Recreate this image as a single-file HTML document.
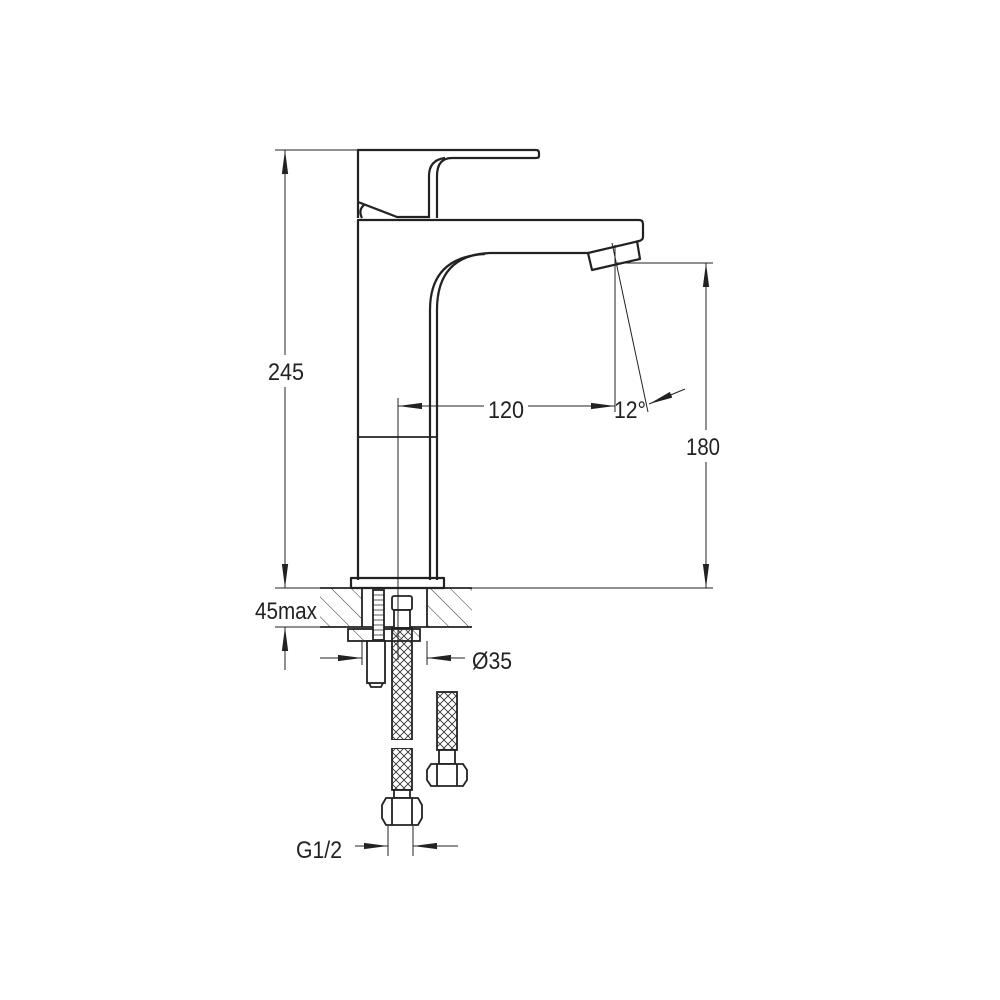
<!DOCTYPE html>
<html><head><meta charset="utf-8"><style>
html,body{margin:0;padding:0;background:#fff}
svg{display:block}
text{font-family:"Liberation Sans",sans-serif;font-size:24px;fill:#222}
</style></head><body>
<svg width="1000" height="1000" viewBox="0 0 1000 1000" xmlns="http://www.w3.org/2000/svg">
<defs>
<pattern id="hatch" patternUnits="userSpaceOnUse" width="14" height="14" patternTransform="rotate(-45)">
<line x1="0" y1="0" x2="0" y2="14" stroke="#333" stroke-width="1"/>
</pattern>
<pattern id="mesh" patternUnits="userSpaceOnUse" width="8" height="8">
<path d="M0 0L8 8M8 0L0 8" stroke="#333" stroke-width="0.9"/>
</pattern>
<marker id="arl" viewBox="0 0 10 10" refX="10" refY="5" markerWidth="24" markerHeight="9" orient="auto-start-reverse" markerUnits="userSpaceOnUse" preserveAspectRatio="none">
<path d="M0 1.5L10 5L0 8.5z" fill="#222"/>
</marker>
</defs>
<g fill="none" stroke="#222" stroke-width="2.2" stroke-linejoin="round">
<path d="M358 218V150H536Q539 150 539 153V156Q539 158 536 158H452Q437 158 437 176V218"/>
<path d="M429 218V176Q429 160 445 158"/>
<path d="M358 202L397 217H430"/>
<path d="M362 218Q358 210 364 205"/>
<path d="M358 580V220H639Q643 220 643 224V237Q643 240 639 241L588 253H490Q437 255 437 310V580"/>
<path d="M430 580V310Q430 257 485 254"/>
<path d="M588 253L592 270L640 259L637 241"/>
<line x1="358" y1="437" x2="437" y2="437" stroke-width="1.8"/>
<rect x="351" y="578" width="93" height="10"/>
</g>
<rect x="320" y="588" width="42" height="39" fill="url(#hatch)"/>
<rect x="427" y="588" width="45" height="39" fill="url(#hatch)"/>
<g fill="none" stroke="#222" stroke-width="1.8">
<line x1="320" y1="588" x2="472" y2="588"/>
<line x1="320" y1="627" x2="472" y2="627"/>
<line x1="362" y1="588" x2="362" y2="627"/>
<line x1="427" y1="588" x2="427" y2="627"/>
</g>
<rect x="348" y="629" width="72" height="12" fill="url(#hatch)" stroke="#222" stroke-width="1.8"/>
<g stroke="#222" stroke-width="1.8" fill="#fff">
<rect x="373" y="590" width="11" height="50"/>
<rect x="367" y="641" width="18" height="42"/>
<path d="M369 683L371 687H381L383 683" fill="none"/>
</g>
<g stroke="#222" stroke-width="0.8">
<path d="M373 595H384M373 600H384M373 605H384M373 610H384M373 615H384M373 620H384M373 625H384M373 630H384M373 635H384"/>
</g>
<g stroke="#222" stroke-width="1.8" fill="#fff">
<rect x="392" y="596" width="20" height="14" rx="2"/>
<rect x="394" y="610" width="16" height="18"/>
</g>
<g stroke="#222" stroke-width="1.8">
<rect x="392" y="628" width="20" height="112" fill="url(#mesh)"/>
<rect x="392" y="748" width="20" height="42" fill="url(#mesh)"/>
<rect x="437" y="692" width="20" height="58" fill="url(#mesh)"/>
</g>
<g fill="#fff" stroke="#222" stroke-width="1.8">
<rect x="394" y="790" width="16" height="8"/>
<path d="M386 798H418L422 805V818L418 825H386L382 818V805Z"/>
<path d="M392 798V825M412 798V825" fill="none"/>
<rect x="439" y="750" width="16" height="14"/>
<path d="M431 764H463L467 770V780L463 786H431L427 780V770Z"/>
<path d="M437 764V786M457 764V786" fill="none"/>
</g>
<rect x="386" y="740" width="32" height="8" fill="#fff"/>
<g stroke="#222" stroke-width="1" fill="none">
<line x1="275" y1="150" x2="358" y2="150"/>
<line x1="285" y1="150" x2="285" y2="588" marker-start="url(#arl)" marker-end="url(#arl)"/>
<line x1="275" y1="588" x2="320" y2="588"/>
<line x1="472" y1="588" x2="713" y2="588"/>
<line x1="275" y1="627" x2="320" y2="627"/>
<line x1="285" y1="670" x2="285" y2="627" marker-end="url(#arl)"/>
<line x1="617" y1="263" x2="713" y2="263"/>
<line x1="706" y1="263" x2="706" y2="588" marker-start="url(#arl)" marker-end="url(#arl)"/>
<line x1="398" y1="398" x2="398" y2="660"/>
<line x1="398" y1="406" x2="615" y2="406" marker-start="url(#arl)" marker-end="url(#arl)"/>
<line x1="615" y1="245" x2="615" y2="412"/>
<line x1="612" y1="243" x2="648" y2="412"/>
<line x1="685" y1="389" x2="649" y2="404" marker-end="url(#arl)"/>
<line x1="320" y1="658" x2="362" y2="658" marker-end="url(#arl)"/>
<line x1="465" y1="658" x2="427" y2="658" marker-end="url(#arl)"/>
<line x1="362" y1="641" x2="362" y2="665"/>
<line x1="427" y1="641" x2="427" y2="665"/>
<line x1="388" y1="826" x2="388" y2="856"/>
<line x1="413" y1="826" x2="413" y2="856"/>
<line x1="355" y1="846" x2="388" y2="846" marker-end="url(#arl)"/>
<line x1="458" y1="846" x2="413" y2="846" marker-end="url(#arl)"/>
</g>
<rect x="266" y="355" width="40" height="32" fill="#fff"/>
<text x="286" y="380" text-anchor="middle" textLength="36" lengthAdjust="spacingAndGlyphs">245</text>
<rect x="685" y="430" width="40" height="32" fill="#fff"/>
<text x="703" y="455" text-anchor="middle" textLength="34" lengthAdjust="spacingAndGlyphs">180</text>
<rect x="484" y="394" width="44" height="28" fill="#fff"/>
<text x="506" y="418" text-anchor="middle" textLength="36" lengthAdjust="spacingAndGlyphs">120</text>
<text x="614" y="418" textLength="32" lengthAdjust="spacingAndGlyphs">12°</text>
<rect x="254" y="596" width="64" height="28" fill="#fff"/>
<text x="255" y="619" textLength="62" lengthAdjust="spacingAndGlyphs">45max</text>
<text x="472" y="669" textLength="40" lengthAdjust="spacingAndGlyphs">Ø35</text>
<text x="296" y="858" textLength="46" lengthAdjust="spacingAndGlyphs">G1/2</text>
</svg>
</body></html>
